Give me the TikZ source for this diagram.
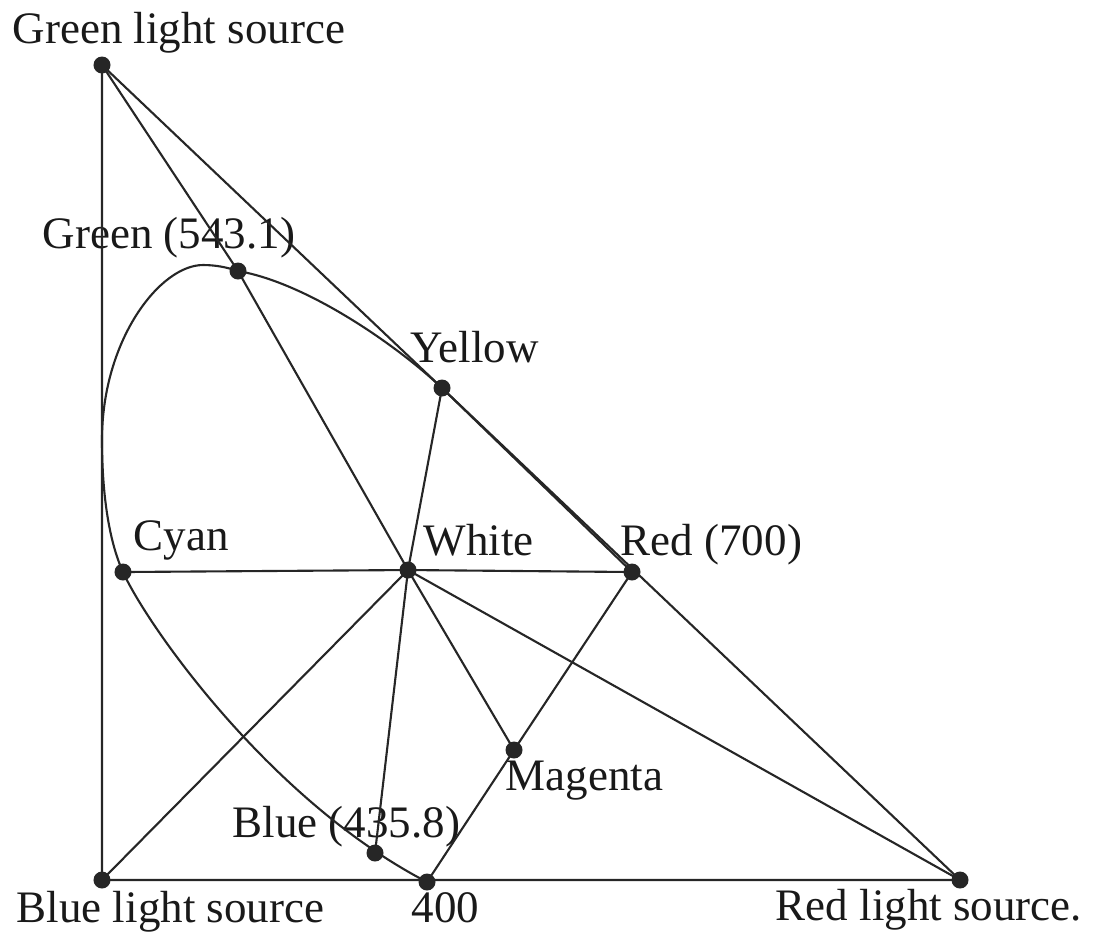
\documentclass[tikz,border=0pt]{standalone}
\usepackage{fontspec}
\setmainfont{Liberation Serif}
\usetikzlibrary{positioning}
\tikzset{
  pt/.style={circle, fill=black!85, inner sep=0pt, minimum size=1.7mm},
  lbl/.style={inner sep=0pt, anchor=base west, font=\fontsize{12.8}{15}\selectfont, text=black!90},
  ln/.style={line width=0.6pt, draw=black!85},
}
\begin{document}
\begin{tikzpicture}[x=0.01cm,y=-0.01cm]
  \useasboundingbox (0,0) rectangle (1095,935);
  % light sources
  \node[pt] (gsrc) at (102,65)  {};
  \node[pt] (bsrc) at (102,880) {};
  \node[pt] (rsrc) at (960,880) {};
  % points on and inside the locus
  \node[pt] (g543) at (238,271) {};
  \node[pt] (yel)  at (442,388) {};
  \node[pt] (cyan) at (123,572) {};
  \node[pt] (wht)  at (408,570) {};
  \node[pt] (r700) at (632,572) {};
  \node[pt] (mag)  at (514,750) {};
  \node[pt] (b436) at (375,853) {};
  \node[pt] (v400) at (427,882) {};
  % labels
  \node[lbl] at (12,43)   {Green light source};
  \node[lbl] at (42,248)  {Green (543.1)};
  \node[lbl] at (410,362) {Yellow};
  \node[lbl] at (133,550) {Cyan};
  \node[lbl] at (423,555) {White};
  \node[lbl] at (620,555) {Red (700)};
  \node[lbl] at (505,790) {Magenta};
  \node[lbl] at (232,837) {Blue (435.8)};
  \node[lbl] at (411,922) {400};
  \node[lbl] at (16,922)  {Blue light source};
  \node[lbl] at (775,920) {Red light source.};
  % triangle of sources
  \draw[ln] (gsrc.center) -- (bsrc.center) -- (rsrc.center) -- (gsrc.center);
  % spectral locus
  \draw[ln] (r700.center) -- (yel.center)
    .. controls (399,347) and (308,283) .. (g543.center)
    .. controls (226,267) and (215,265) .. (203,265)
    .. controls (160,265) and (102,340) .. (102,440)
    .. controls (102,490) and (108,539) .. (cyan.center)
    .. controls (148,627) and (271,801) .. (v400.center);
  % mixing lines through white
  \draw[ln] (gsrc.center) -- (g543.center) -- (wht.center);
  \draw[ln] (cyan.center) -- (wht.center) -- (r700.center);
  \draw[ln] (wht.center) -- (yel.center);
  \draw[ln] (wht.center) -- (bsrc.center);
  \draw[ln] (wht.center) -- (rsrc.center);
  \draw[ln] (wht.center) -- (b436.center);
  \draw[ln] (wht.center) -- (mag.center);
  \draw[ln] (r700.center) -- (mag.center) -- (v400.center);
\end{tikzpicture}
\end{document}
